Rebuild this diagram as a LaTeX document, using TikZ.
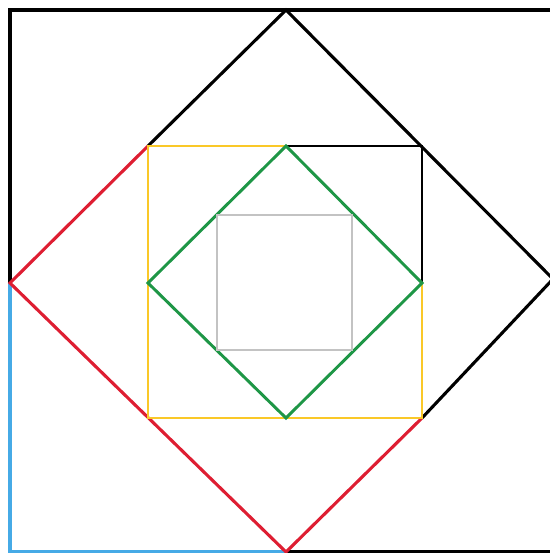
\documentclass[tikz,border=0pt]{standalone}
\usepackage{tikz}
\usepackage{xcolor}
\definecolor{sqred}{RGB}{222,30,50}
\definecolor{sqyellow}{RGB}{250,200,40}
\definecolor{sqgreen}{RGB}{30,150,70}
\definecolor{sqblue}{RGB}{70,170,230}
\definecolor{sqgray}{RGB}{195,195,195}
\tikzset{outer/.style={line width=2.2pt},inner/.style={line width=2.1pt}}

\begin{document}
\begin{tikzpicture}[x=0.025cm,y=-0.025cm]
\useasboundingbox (0,0) rectangle (550,553);
\clip (0,0) rectangle (550,553);
% outer square
\coordinate (tl) at (10,10);
\coordinate (tr) at (553,10);
\coordinate (br) at (553,552);
\coordinate (bl) at (10,552);
% diamond
\coordinate (dt) at (286,10);
\coordinate (dr) at (553,279);
\coordinate (db) at (286,552);
\coordinate (dl) at (10,283);
% yellow square
\coordinate (ytl) at (148,146);
\coordinate (ytr) at (422,146);
\coordinate (ybr) at (422,418);
\coordinate (ybl) at (148,418);
% green diamond
\coordinate (gt) at (286,146);
\coordinate (gr) at (422,283);
\coordinate (gb) at (286,418);
\coordinate (gl) at (148,283);
\draw [outer,black](dl)--(tl)--(tr)--(br)--(db);
\draw [outer,sqblue](dl)--(bl)--(db);
\draw [outer,black](ytl)--(dt)--(dr)--(ybr);
\draw [outer,sqred](ytl)--(dl)--(db)--(ybr);
\draw [inner,sqyellow](gt)--(ytl)--(ybl)--(ybr)--(gr);
\draw [inner,black](gt)--(ytr)--(gr);
\draw [inner,sqgreen](gt)--(gr)--(gb)--(gl)--cycle;
\draw [inner,sqgray](217,215) rectangle (352,350);
\end{tikzpicture}
\end{document}
